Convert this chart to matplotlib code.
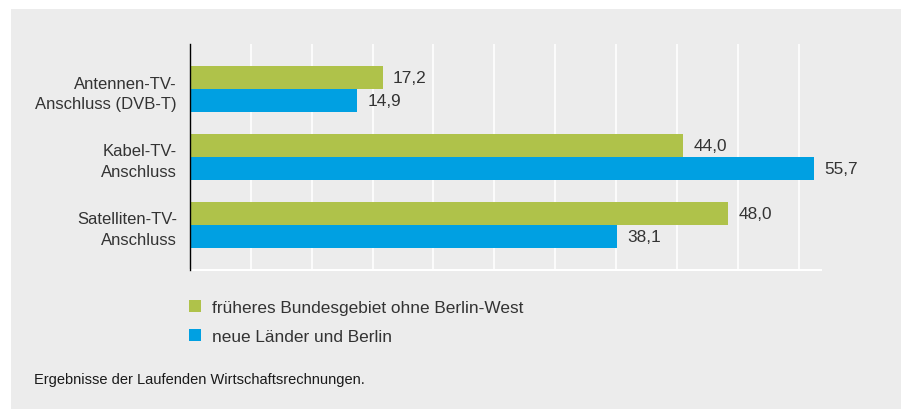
import numpy as np
import matplotlib.pyplot as plt
from matplotlib.patches import Rectangle

plt.rcParams['font.family'] = ['Liberation Sans', 'DejaVu Sans']

categories = ['Antennen-TV-\nAnschluss (DVB-T)', 'Kabel-TV-\nAnschluss', 'Satelliten-TV-\nAnschluss']
west = [17.2, 44.0, 48.0]
ost = [14.9, 55.7, 38.1]
series_names = ['früheres Bundesgebiet ohne Berlin-West', 'neue Länder und Berlin']
footnote = 'Ergebnisse der Laufenden Wirtschaftsrechnungen.'

green = '#afc24a'
blue = '#00a0e2'
panel = '#ececec'
text_col = '#333333'
fs = 12.4

fig = plt.figure(figsize=(9.01, 4.10), dpi=100, facecolor='white')
fig.patches.append(Rectangle((11 / 901, -0.05), 1, 0.05 + (410 - 10) / 410, transform=fig.transFigure,
                             facecolor=panel, edgecolor='none', zorder=-1))

ax = fig.add_axes([190 / 901, (410 - 271) / 410, (821 - 190) / 901, (271 - 45) / 410])
ax.set_facecolor(panel)

y = np.arange(len(categories))
h = 0.334
b1 = ax.barh(y - h / 2, west, height=h, color=green, label=series_names[0], zorder=2)
b2 = ax.barh(y + h / 2, ost, height=h, color=blue, label=series_names[1], zorder=2)

for bars, vals in ((b1, west), (b2, ost)):
    for bar, v in zip(bars, vals):
        ax.annotate(f'{v:.1f}'.replace('.', ','),
                    (bar.get_width(), bar.get_y() + bar.get_height() / 2),
                    xytext=(7.4, 0), textcoords='offset points',
                    va='center', ha='left', fontsize=fs, color=text_col)

ax.set_ylim(2.665, -0.665)
ax.set_xlim(0, 56.3)
ax.set_yticks(y)
ax.set_yticklabels(categories, fontsize=12, color=text_col, ha='right', linespacing=1.45)
ax.tick_params(axis='y', length=0, pad=9.4)
ax.set_xticks(np.arange(1, 11) * 5.43)
ax.tick_params(axis='x', length=0, labelbottom=False)
ax.grid(axis='x', color='white', linewidth=1.2, zorder=1)
ax.set_axisbelow(True)

for s in ('top', 'right'):
    ax.spines[s].set_visible(False)
ax.spines['left'].set_color('black')
ax.spines['left'].set_linewidth(1.0)
ax.spines['left'].set_zorder(3)
ax.spines['bottom'].set_color('white')
ax.spines['bottom'].set_linewidth(1.5)

fig.legend(handles=[b1, b2], loc='upper left', bbox_to_anchor=(173 / 901, (410 - 285) / 410),
           frameon=False, fontsize=fs, handlelength=0.75, handleheight=0.75,
           handletextpad=0.6, labelspacing=0.8, labelcolor=text_col)

fig.text(34 / 901, (410 - 380) / 410, footnote, fontsize=10.5, color='#1a1a1a', va='center')

fig.savefig('out.png', dpi=100, facecolor=fig.get_facecolor())
